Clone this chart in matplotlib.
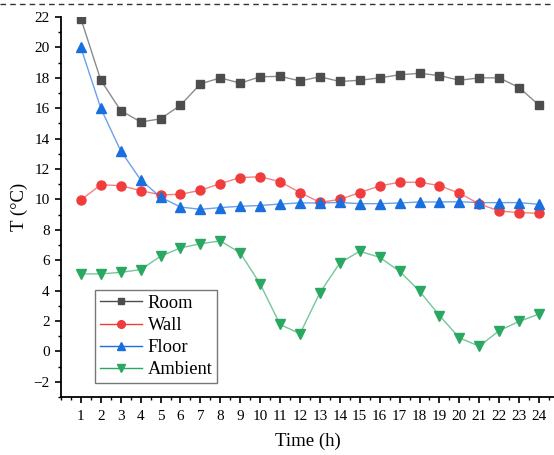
import numpy as np
import matplotlib.pyplot as plt
from matplotlib.lines import Line2D
from matplotlib.ticker import MultipleLocator

plt.rcParams['font.family'] = ['Liberation Serif', 'DejaVu Serif']

# hourly temperatures
hours = np.arange(1, 25)
room = [21.9, 17.85, 15.85, 15.1, 15.3, 16.2, 17.6, 18.0, 17.65, 18.07, 18.1, 17.8,
        18.07, 17.76, 17.84, 18.0, 18.2, 18.3, 18.15, 17.84, 18.0, 18.0, 17.36, 16.2]
wall = [9.97, 10.96, 10.91, 10.58, 10.3, 10.34, 10.6, 11.04, 11.44, 11.49, 11.17, 10.45,
        9.81, 10.0, 10.45, 10.89, 11.13, 11.13, 10.91, 10.41, 9.7, 9.24, 9.13, 9.09]
floor = [20.0, 16.0, 13.2, 11.29, 10.15, 9.5, 9.35, 9.46, 9.55, 9.6, 9.7, 9.77,
         9.77, 9.8, 9.72, 9.72, 9.77, 9.83, 9.83, 9.85, 9.79, 9.79, 9.79, 9.68]
ambient = [5.1, 5.1, 5.2, 5.38, 6.26, 6.81, 7.08, 7.27, 6.48, 4.44, 1.77, 1.16,
           3.86, 5.82, 6.59, 6.19, 5.27, 3.97, 2.36, 0.89, 0.34, 1.37, 1.97, 2.46]

fig = plt.figure(figsize=(5.54, 4.55), dpi=100)
ax = fig.add_axes([0.110, 0.1275, 0.89, 0.835])

# series: label, values, colour, marker, size
series = [('Room', room, '#4d4d4d', 's', 5.8),
          ('Wall', wall, '#f03c3c', 'o', 6.5),
          ('Floor', floor, '#1a6fdf', '^', 7.5),
          ('Ambient', ambient, '#2aa862', 'v', 7.5)]
for name, vals, col, mk, ms in series:
    ax.plot(hours, vals, color=col, alpha=0.65, lw=1.0)
    ax.plot(hours, vals, ls='none', marker=mk, ms=ms, color=col, mec=col)

handles = [Line2D([], [], color=c, lw=1.0, marker=m, ms=s * 0.85, mfc=c, mec=c)
           for _, _, c, m, s in series]
leg = ax.legend(handles, [s[0] for s in series], loc='lower left',
                bbox_to_anchor=(0.069, 0.037), fontsize=13.3, fancybox=False,
                frameon=True, edgecolor='#555555', handlelength=2.3,
                borderpad=0.25, labelspacing=0.28, handletextpad=0.3,
                borderaxespad=0)
leg.get_frame().set_linewidth(1.0)

ax.set_xlim(0, 24.75)
ax.set_ylim(-3, 22)
ax.set_xticks(hours)
ax.xaxis.set_minor_locator(MultipleLocator(0.5))
ax.yaxis.set_major_locator(MultipleLocator(2))
ax.yaxis.set_minor_locator(MultipleLocator(1))
ax.tick_params(which='major', direction='out', length=4.5, width=1.2, labelsize=11)
ax.tick_params(axis='x', which='major', pad=5)
ax.tick_params(which='minor', direction='out', length=2.5, width=1.0)

for side in ['top', 'right']:
    ax.spines[side].set_visible(False)
for side in ['left', 'bottom']:
    ax.spines[side].set_linewidth(1.3)

ax.set_xlabel('Time (h)', fontsize=13.5, labelpad=7)
ax.set_ylabel('T (°C)', fontsize=13.5, labelpad=4)

# dashed rule along the top edge of the crop
fig.add_artist(Line2D([0, 1], [0.991, 0.991], transform=fig.transFigure,
                      color='#333333', lw=1.0, ls=(0, (4, 3))))

fig.savefig('out.png', dpi=100)
